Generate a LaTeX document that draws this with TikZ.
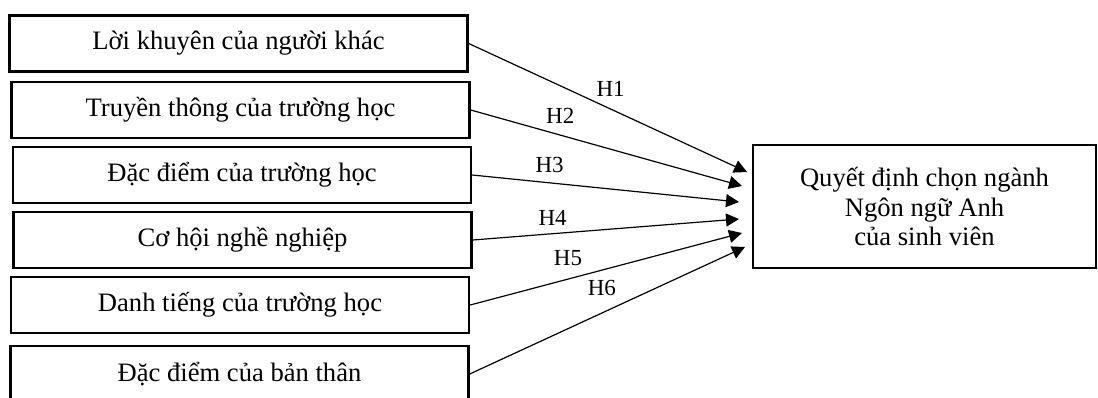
\documentclass[tikz,border=0pt]{standalone}
\usepackage{fontspec}
\setmainfont{Liberation Serif}
\usetikzlibrary{arrows.meta}

\begin{document}
\begin{tikzpicture}[x=0.5pt, y=-0.5pt,
	factor/.style={draw, line width=1.2pt, minimum width=229pt, minimum height=28pt, inner sep=0pt, font=\fontsize{13.3}{15}\selectfont},
	goalbox/.style={draw, line width=1.2pt, minimum width=171.5pt, minimum height=61.5pt, align=center, font=\fontsize{13.3}{14.6}\selectfont},
	hyp/.style={-{Triangle[length=6.5pt, width=6.5pt]}, line width=0.6pt},
	hlabel/.style={font=\fontsize{11.5}{13}\selectfont}]
	\useasboundingbox (0,0) rectangle (1098,397);
	
	\node[factor] (f1) at (238.5,43.5) {Lời khuyên của người khác};
	\node[factor] (f2) at (240.5,110) {Truyền thông của trường học};
	\node[factor] (f3) at (242,175) {Đặc điểm của trường học};
	\node[factor] (f4) at (242.5,240) {Cơ hội nghề nghiệp};
	\node[factor] (f5) at (240,305) {Danh tiếng của trường học};
	\node[factor] (f6) at (239.5,374) {Đặc điểm của bản thân};
	
	\node[goalbox] (goal) at (924.5,206.5) {Quyết định chọn ngành\\Ngôn ngữ Anh\\của sinh viên};
	
	% arrow tips stop short of the goal box
	\foreach \i/\x/\y in {1/747/172, 2/742/186, 3/739/202, 4/739/219, 5/742/233, 6/745/247}
		\coordinate (t\i) at (\x,\y);
	
	\foreach \i/\p/\d in {1/0.51/2.5, 2/0.33/2, 3/0.29/1.5, 4/0.30/0.25, 5/0.36/3, 6/0.48/5}
		\draw[hyp] (f\i.east) -- node[hlabel, pos=\p, above=\d pt] (h\i) {H\i} (t\i);
\end{tikzpicture}
\end{document}
